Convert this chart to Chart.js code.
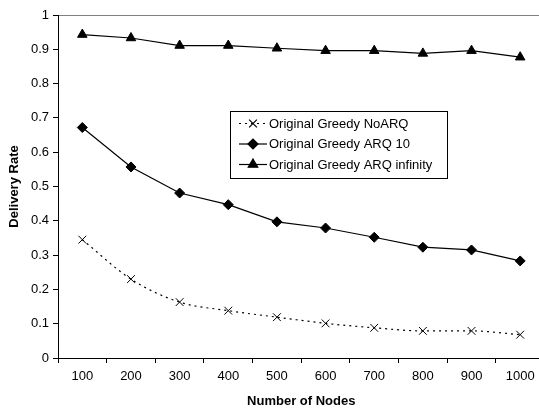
<!DOCTYPE html>
<html>
<head>
<meta charset="utf-8">
<script src="https://cdn.jsdelivr.net/npm/chart.js@4"></script>
<style>
html,body{margin:0;padding:0;background:#fff;overflow:hidden;}
#wrap{position:relative;width:551px;height:409px;}
</style>
</head>
<body>
<div id="wrap"><canvas id="c" width="551" height="409"></canvas></div>
<script>
const categories = ['100','200','300','400','500','600','700','800','900','1000'];
const noArq = [0.345,0.230,0.163,0.138,0.119,0.101,0.088,0.079,0.079,0.068];
const arq10 = [0.672,0.557,0.481,0.447,0.397,0.379,0.352,0.323,0.315,0.283];
const arqInf = [0.943,0.933,0.911,0.911,0.903,0.896,0.896,0.888,0.896,0.877];
const seriesNames = ['Original Greedy NoARQ','Original Greedy ARQ 10','Original Greedy ARQ infinity'];

const FONT = '"Liberation Sans", Arial, sans-serif';

const legendPlugin = {
  id: 'boxLegend',
  afterDraw(chart) {
    const ctx = chart.ctx;
    const x = 230.5, y = 111.5, w = 217, h = 67;
    ctx.save();
    ctx.fillStyle = '#fff';
    ctx.fillRect(x, y, w, h);
    ctx.strokeStyle = '#000';
    ctx.lineWidth = 1;
    ctx.strokeRect(x, y, w, h);
    const rows = [123.5, 144, 164.5];
    chart.data.datasets.forEach((ds, i) => {
      const ry = rows[i];
      ctx.beginPath();
      ctx.strokeStyle = '#000';
      ctx.lineWidth = ds.borderWidth;
      ctx.setLineDash(ds.borderDash || []);
      ctx.moveTo(239, ry);
      ctx.lineTo(267, ry);
      ctx.stroke();
      ctx.setLineDash([]);
      Chart.helpers.drawPoint(ctx, {
        pointStyle: ds.pointStyle,
        radius: ds.pointRadius,
        borderWidth: 1
      }, 253, ry);
      ctx.fillStyle = '#000';
      ctx.font = '13px ' + FONT;
      ctx.textBaseline = 'middle';
      ctx.textAlign = 'left';
      ctx.fillText(ds.label, 269, ry + 0.5);
    });
    ctx.restore();
  }
};

new Chart(document.getElementById('c'), {
  type: 'line',
  data: {
    labels: categories,
    datasets: [
      {
        label: seriesNames[0], data: noArq,
        borderColor: '#000', backgroundColor: '#000', borderWidth: 1.2,
        borderDash: [2, 4], pointStyle: 'crossRot', pointRadius: 5.5,
        pointBorderWidth: 1, cubicInterpolationMode: 'monotone'
      },
      {
        label: seriesNames[1], data: arq10,
        borderColor: '#000', backgroundColor: '#000', borderWidth: 1.2,
        pointStyle: 'rectRot', pointRadius: 5, pointBorderWidth: 1, tension: 0
      },
      {
        label: seriesNames[2], data: arqInf,
        borderColor: '#000', backgroundColor: '#000', borderWidth: 1.2,
        pointStyle: 'triangle', pointRadius: 5.5, pointBorderWidth: 1, tension: 0
      }
    ]
  },
  options: {
    responsive: false,
    animation: false,
    layout: { padding: { left: 0, right: 2, top: 15, bottom: 0 } },
    plugins: { legend: { display: false }, tooltip: { enabled: false } },
    scales: {
      x: {
        offset: true,
        grid: { offset: true, drawOnChartArea: false, color: '#000', tickLength: 5, tickColor: '#000' },
        border: { color: '#000', width: 1 },
        ticks: { color: '#000', font: { family: FONT, size: 13 }, padding: 6, maxRotation: 0 },
        title: { display: true, text: 'Number of Nodes', color: '#000', font: { family: FONT, size: 13, weight: 'bold' }, padding: { top: 4, bottom: 0 } },
        afterFit(s) { s.height = 51; }
      },
      y: {
        min: 0, max: 1,
        ticks: { stepSize: 0.1, color: '#000', font: { family: FONT, size: 13 }, padding: 4,
          callback: v => (Math.round(v * 10) / 10).toString() },
        grid: {
          drawOnChartArea: true, tickLength: 5, tickColor: '#000',
          color: c => (c.tick && c.tick.value === 1) ? '#808080' : 'rgba(0,0,0,0)'
        },
        border: { color: '#000', width: 1 },
        title: { display: true, text: 'Delivery Rate', color: '#000', font: { family: FONT, size: 13, weight: 'bold' }, padding: { top: 7, bottom: 2 } },
        afterFit(s) { s.width = 58; }
      }
    }
  },
  plugins: [legendPlugin]
});
</script>
</body>
</html>
